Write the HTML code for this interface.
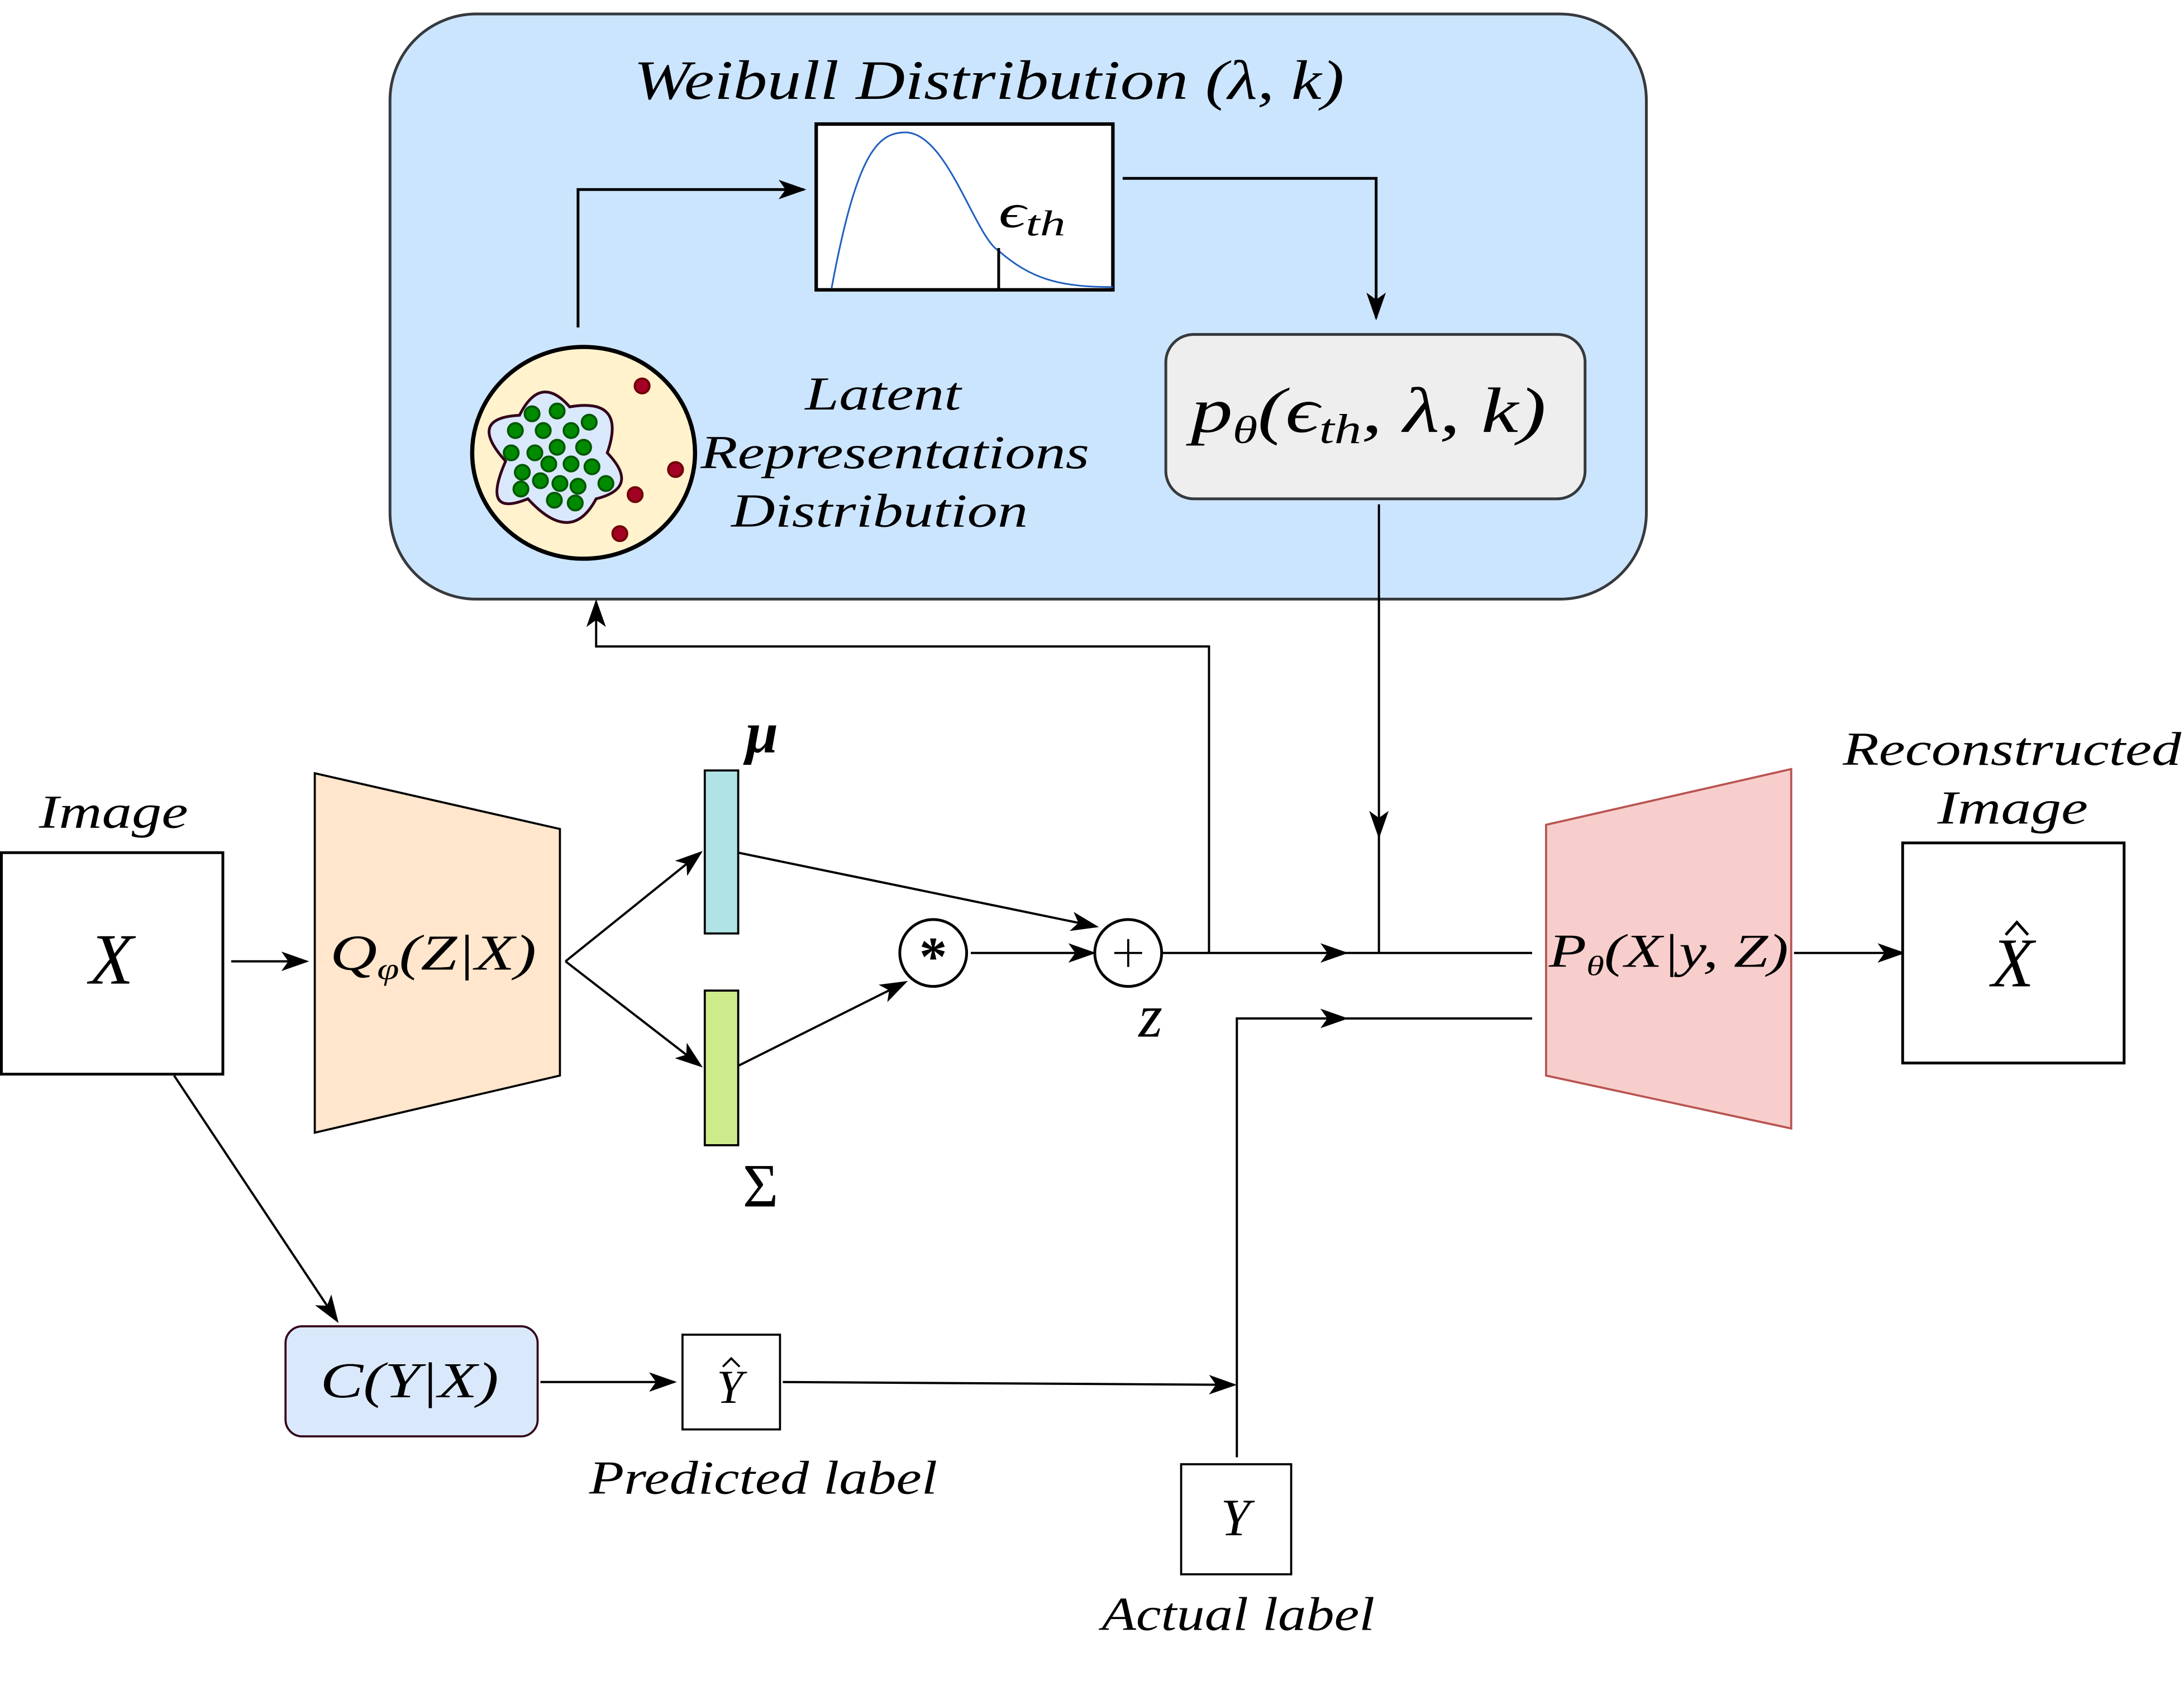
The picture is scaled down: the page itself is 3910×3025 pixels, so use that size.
<!DOCTYPE html>
<html><head><meta charset="utf-8"><style>html,body{margin:0;padding:0;background:#fff}svg{display:block}</style></head>
<body>
<svg width="3910" height="3025" viewBox="0 0 1568 1213" xmlns="http://www.w3.org/2000/svg" font-family="'Liberation Serif', serif" font-style="italic">
<defs>
<marker id="a" viewBox="0 0 20 14" refX="18" refY="7" markerWidth="20" markerHeight="14" markerUnits="userSpaceOnUse" orient="auto">
<path d="M0,0 L20,7 L0,14 L5,7 Z" fill="#000"/></marker>
</defs>
<g fill="none" stroke="#000" stroke-width="2">
<rect x="280" y="10" width="902" height="420" rx="62" fill="#cce5ff" stroke="#36393d"/>
<rect x="586" y="89" width="213" height="119" fill="#fff" stroke-width="2.5"/>
<path d="M597,207 C615,110 630,95 650,95 C680,95 700,170 717,180 C740,200 760,206 799,206" stroke="#1f5fbf" stroke-width="1.2"/>
<line x1="717" y1="178" x2="717" y2="208"/>
<path d="M415,235 V136 H577" marker-end="url(#a)"/>
<path d="M806,128 H988 V228" marker-end="url(#a)"/>
<rect x="837" y="240" width="301" height="118" rx="20" fill="#eeeeee" stroke="#36393d"/>
<ellipse cx="419" cy="325" rx="80" ry="76" fill="#fff2cc" stroke-width="3"/>
<path d="M373,298 Q388,268 409,292 Q450,285 436,325 Q460,350 428,358 Q410,392 379,358 Q345,372 363,331 Q335,300 373,298 Z" fill="#dae8fc" stroke="#33001a" stroke-width="2"/>
</g>
<g fill="#008a00" stroke="#005700" stroke-width="1.5">
<circle cx="382" cy="297" r="5.3"/><circle cx="400" cy="295" r="5.3"/><circle cx="423" cy="303" r="5.3"/>
<circle cx="370" cy="309" r="5.3"/><circle cx="390" cy="309" r="5.3"/><circle cx="410" cy="309" r="5.3"/>
<circle cx="367" cy="325" r="5.3"/><circle cx="384" cy="325" r="5.3"/><circle cx="400" cy="321" r="5.3"/><circle cx="419" cy="321" r="5.3"/>
<circle cx="394" cy="333" r="5.3"/><circle cx="410" cy="333" r="5.3"/><circle cx="425" cy="335" r="5.3"/>
<circle cx="375" cy="339" r="5.3"/><circle cx="388" cy="345" r="5.3"/><circle cx="402" cy="347" r="5.3"/><circle cx="415" cy="349" r="5.3"/><circle cx="435" cy="347" r="5.3"/>
<circle cx="374" cy="351" r="5.3"/><circle cx="398" cy="359" r="5.3"/><circle cx="413" cy="361" r="5.3"/>
</g>
<g fill="#a20025" stroke="#6f0000" stroke-width="1.5">
<circle cx="461" cy="277" r="5.3"/><circle cx="485" cy="337" r="5.3"/><circle cx="456" cy="355" r="5.3"/><circle cx="445" cy="383" r="5.3"/>
</g>
<g fill="none" stroke="#000" stroke-width="1.6">
<path d="M990,362 V600" marker-end="url(#a)"/>
<line x1="990" y1="598" x2="990" y2="684"/>
<path d="M868,684 H966" marker-end="url(#a)"/>
<line x1="964" y1="684" x2="1100" y2="684"/>
<path d="M868,684 V464 H428 V432" marker-end="url(#a)"/>
<rect x="1" y="612" width="159" height="159" fill="#fff" stroke-width="2"/>
<path d="M166,690 H220" marker-end="url(#a)"/>
<path d="M226,555 L402,595 L402,772 L226,813 Z" fill="#ffe6cc" stroke="#000" stroke-width="1.5"/>
<path d="M406,690 L503,612" marker-end="url(#a)"/>
<path d="M406,690 L503,765" marker-end="url(#a)"/>
<rect x="506" y="553" width="24" height="117" fill="#b0e3e6" stroke-width="1.5"/>
<rect x="506" y="711" width="24" height="111" fill="#cdeb8b" stroke-width="1.5"/>
<path d="M530,612 L787,665" marker-end="url(#a)"/>
<path d="M530,765 L650,705" marker-end="url(#a)"/>
<circle cx="670" cy="684" r="24" fill="#fff" stroke-width="2"/>
<circle cx="810" cy="684" r="24" fill="#fff" stroke-width="2"/>
<path d="M800,684 H820 M810,674 V694" stroke-width="1.5"/>
<path d="M697,684 H785" marker-end="url(#a)"/>
<line x1="834" y1="684" x2="868" y2="684"/>
<path d="M1110,592 L1286,552 L1286,810 L1110,772 Z" fill="#f8cecc" stroke="#b85450" stroke-width="1.5"/>
<path d="M1288,684 H1366" marker-end="url(#a)"/>
<rect x="1366" y="605" width="159" height="158" fill="#fff" stroke-width="2"/>
<path d="M888,1046 V731 H966" marker-end="url(#a)"/>
<line x1="964" y1="731" x2="1100" y2="731"/>
<path d="M125,772 L242,948" marker-end="url(#a)"/>
<rect x="205" y="952" width="181" height="79" rx="12" fill="#dae8fc" stroke="#33001a" stroke-width="1.5"/>
<path d="M388,992 H484" marker-end="url(#a)"/>
<rect x="490" y="958" width="70" height="68" fill="#fff" stroke-width="1.5"/>
<path d="M562,992 L886,994" marker-end="url(#a)"/>
<rect x="848" y="1051" width="79" height="79" fill="#fff" stroke-width="1.5"/>
<path d="M1440,671 L1448,662 L1456,671" stroke-width="2"/>
<path d="M519,981 L525,975 L531,981" stroke-width="1.5"/>
</g>
<g fill="#000">
<text x="455" y="71" font-size="40" textLength="510" lengthAdjust="spacingAndGlyphs">Weibull Distribution (λ, k)</text>
<text x="717" y="163" font-size="34" textLength="48" lengthAdjust="spacingAndGlyphs">ϵ<tspan font-size="26" dy="6">th</tspan></text>
<text x="855" y="310" font-size="46" textLength="255" lengthAdjust="spacingAndGlyphs">p<tspan font-size="28" dy="8">θ</tspan><tspan dy="-8">(ϵ</tspan><tspan font-size="30" dy="8">th</tspan><tspan dy="-8">, λ, k)</tspan></text>
<text x="578" y="294" font-size="34" textLength="112" lengthAdjust="spacingAndGlyphs">Latent</text>
<text x="503" y="336" font-size="34" textLength="279" lengthAdjust="spacingAndGlyphs">Representations</text>
<text x="525" y="378" font-size="34" textLength="213" lengthAdjust="spacingAndGlyphs">Distribution</text>
<text x="28" y="594" font-size="34" textLength="107" lengthAdjust="spacingAndGlyphs">Image</text>
<text x="80" y="706" font-size="52" text-anchor="middle">X</text>
<text x="237" y="696" font-size="36" textLength="148" lengthAdjust="spacingAndGlyphs">Q<tspan font-size="22" dy="7">φ</tspan><tspan dy="-7">(Z|X)</tspan></text>
<text x="547" y="540" font-size="42" font-weight="bold" text-anchor="middle">μ</text>
<text x="546" y="866" font-size="44" font-style="normal" text-anchor="middle">Σ</text>
<text x="670" y="700" font-size="40" font-style="normal" font-weight="bold" text-anchor="middle">*</text>
<text x="826" y="744" font-size="44" text-anchor="middle">z</text>
<text x="1112" y="694" font-size="34" textLength="172" lengthAdjust="spacingAndGlyphs">P<tspan font-size="20" dy="6">θ</tspan><tspan dy="-6">(X|y, Z)</tspan></text>
<text x="1323" y="549" font-size="34" textLength="243" lengthAdjust="spacingAndGlyphs">Reconstructed</text>
<text x="1391" y="591" font-size="34" textLength="108" lengthAdjust="spacingAndGlyphs">Image</text>
<text x="1445" y="708" font-size="50" text-anchor="middle">X</text>
<text x="230" y="1003" font-size="36" textLength="128" lengthAdjust="spacingAndGlyphs">C(Y|X)</text>
<text x="524" y="1007" font-size="34" text-anchor="middle">Y</text>
<text x="423" y="1072" font-size="34" textLength="250" lengthAdjust="spacingAndGlyphs">Predicted label</text>
<text x="887" y="1102" font-size="38" text-anchor="middle">Y</text>
<text x="791" y="1170" font-size="34" textLength="196" lengthAdjust="spacingAndGlyphs">Actual label</text>
</g>
</svg>
</body></html>
